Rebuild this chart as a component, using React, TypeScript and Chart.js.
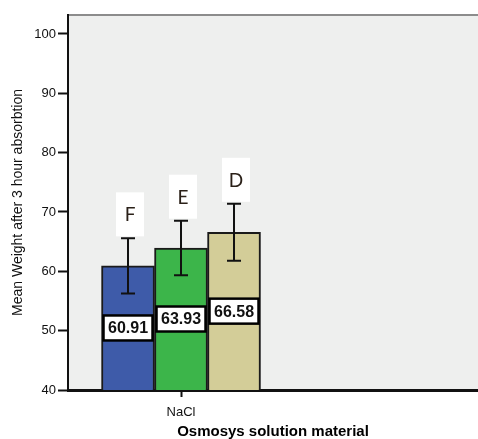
import React, { useEffect, useRef } from "react";
import { Chart, registerables } from "chart.js";

Chart.register(...registerables);

const CATEGORIES = ["NaCl"];
const SERIES = ["F", "E", "D"];
const MEANS = [60.91, 63.93, 66.58];
const ERRORS = [4.65, 4.6, 4.8];
const LETTERS = ["F", "E", "D"];
const COLORS = ["#3E5BA9", "#3CB54A", "#D3CD98"];
const Y_TICKS = [40, 50, 60, 70, 80, 90, 100];
const Y_MIN = 40;
const Y_MAX = 103.2;
const Y_TITLE = "Mean Weight after 3 hour absorbtion";
const X_TITLE = "Osmosys solution material";

const FONT = "'Liberation Sans', Arial, sans-serif";

const decor = {
  id: "decor",
  beforeDraw(chart: any) {
    const { ctx, chartArea: a, width, height } = chart;
    ctx.save();
    ctx.fillStyle = "#ffffff";
    ctx.fillRect(0, 0, width, height);
    ctx.fillStyle = "#EEEFEE";
    ctx.fillRect(a.left, a.top, a.right - a.left, a.bottom - a.top);
    ctx.strokeStyle = "#8c8c8c";
    ctx.lineWidth = 2;
    ctx.beginPath();
    ctx.moveTo(a.left, a.top);
    ctx.lineTo(a.right, a.top);
    ctx.stroke();
    ctx.restore();
  },
  afterDatasetsDraw(chart: any) {
    const ys = chart.scales.y;
    const ctx = chart.ctx;
    chart.data.datasets.forEach((_ds: any, i: number) => {
      const meta = chart.getDatasetMeta(i);
      meta.data.forEach((bar: any) => {
        const mean = MEANS[i];
        const err = ERRORS[i];
        const yTop = ys.getPixelForValue(mean + err);
        const yBot = ys.getPixelForValue(mean - err);
        const x = bar.x;
        ctx.save();
        // error bar
        ctx.strokeStyle = "#111";
        ctx.lineWidth = 2;
        ctx.beginPath();
        ctx.moveTo(x, yTop);
        ctx.lineTo(x, yBot);
        ctx.moveTo(x - 7, yTop);
        ctx.lineTo(x + 7, yTop);
        ctx.moveTo(x - 7, yBot);
        ctx.lineTo(x + 7, yBot);
        ctx.stroke();
        // value label
        const yc = ys.getPixelForValue((ys.min + mean) / 2);
        const bw = bar.width - 4;
        const bh = 25;
        ctx.fillStyle = "#fff";
        ctx.fillRect(x - bw / 2, yc - bh / 2, bw, bh);
        ctx.lineWidth = 2.5;
        ctx.strokeStyle = "#000";
        ctx.strokeRect(x - bw / 2, yc - bh / 2, bw, bh);
        ctx.fillStyle = "#111";
        ctx.font = `bold 16px ${FONT}`;
        ctx.textAlign = "center";
        ctx.textBaseline = "middle";
        ctx.fillText(mean.toFixed(2), x, yc + 1);
        // letter box
        const lw = 28;
        const lh = 44;
        const lx = x + 2;
        const lb = yTop - 2;
        ctx.fillStyle = "#fff";
        ctx.fillRect(lx - lw / 2, lb - lh, lw, lh);
        ctx.fillStyle = "#2a2018";
        ctx.font = `19px Lato, 'Open Sans', sans-serif`;
        ctx.fillText(LETTERS[i], lx, lb - lh / 2 + 1);
        ctx.restore();
      });
    });
  },
};

export default function App() {
  const ref = useRef<HTMLCanvasElement | null>(null);
  useEffect(() => {
    document.body.style.margin = "0";
    const canvas = ref.current;
    if (!canvas) return;
    const chart = new Chart(canvas, {
      type: "bar",
      data: {
        datasets: SERIES.map((name, i) => ({
          label: name,
          data: CATEGORIES.map((_c, j) => ({ x: j + 1, y: MEANS[i] })),
          backgroundColor: COLORS[i],
          borderColor: "#1a1a1a",
          borderWidth: 2,
          borderSkipped: false,
          barThickness: 53,
        })),
      },
      options: {
        responsive: false,
        animation: false,
        layout: { padding: { top: 15, right: 0, left: 0, bottom: 0 } },
        plugins: {
          legend: { display: false },
          tooltip: { enabled: false },
          title: { display: false },
        },
        scales: {
          x: {
            type: "linear",
            min: 0,
            max: 3.628,
            offset: false,
            afterBuildTicks: (s: any) => {
              s.ticks = CATEGORIES.map((_c, j) => ({ value: j + 1 }));
            },
            afterFit: (s: any) => {
              s.height = 49;
            },
            ticks: {
              callback: (v: any) => CATEGORIES[Number(v) - 1] ?? "",
              font: { family: FONT, size: 13 },
              color: "#111",
              padding: 8,
              maxRotation: 0,
            },
            grid: {
              offset: false,
              drawOnChartArea: false,
              drawTicks: true,
              tickLength: 7,
              tickColor: "#111",
              tickWidth: 2,
            },
            border: { display: true, color: "#111", width: 3 },
            title: {
              display: true,
              text: X_TITLE,
              font: { family: FONT, size: 15, weight: "bold", lineHeight: 1 },
              color: "#000",
              padding: { top: 0, bottom: 0 },
            },
          },
          y: {
            type: "linear",
            min: Y_MIN,
            max: Y_MAX,
            afterBuildTicks: (s: any) => {
              s.ticks = Y_TICKS.map((v) => ({ value: v }));
            },
            afterFit: (s: any) => {
              s.width = 68;
            },
            ticks: {
              font: { family: FONT, size: 13 },
              color: "#111",
              padding: 2,
            },
            grid: {
              drawOnChartArea: false,
              drawTicks: true,
              tickLength: 10,
              tickColor: "#111",
              tickWidth: 2,
            },
            border: { display: true, color: "#111", width: 2 },
            title: {
              display: true,
              text: Y_TITLE,
              font: { family: FONT, size: 14, lineHeight: 1.2 },
              color: "#111",
              padding: { top: 10, bottom: 0 },
            },
          },
        },
      },
      plugins: [decor],
    } as any);
    return () => chart.destroy();
  }, []);
  return (
    <div style={{ width: 478, height: 439 }}>
      <canvas ref={ref} width={478} height={439} />
    </div>
  );
}
